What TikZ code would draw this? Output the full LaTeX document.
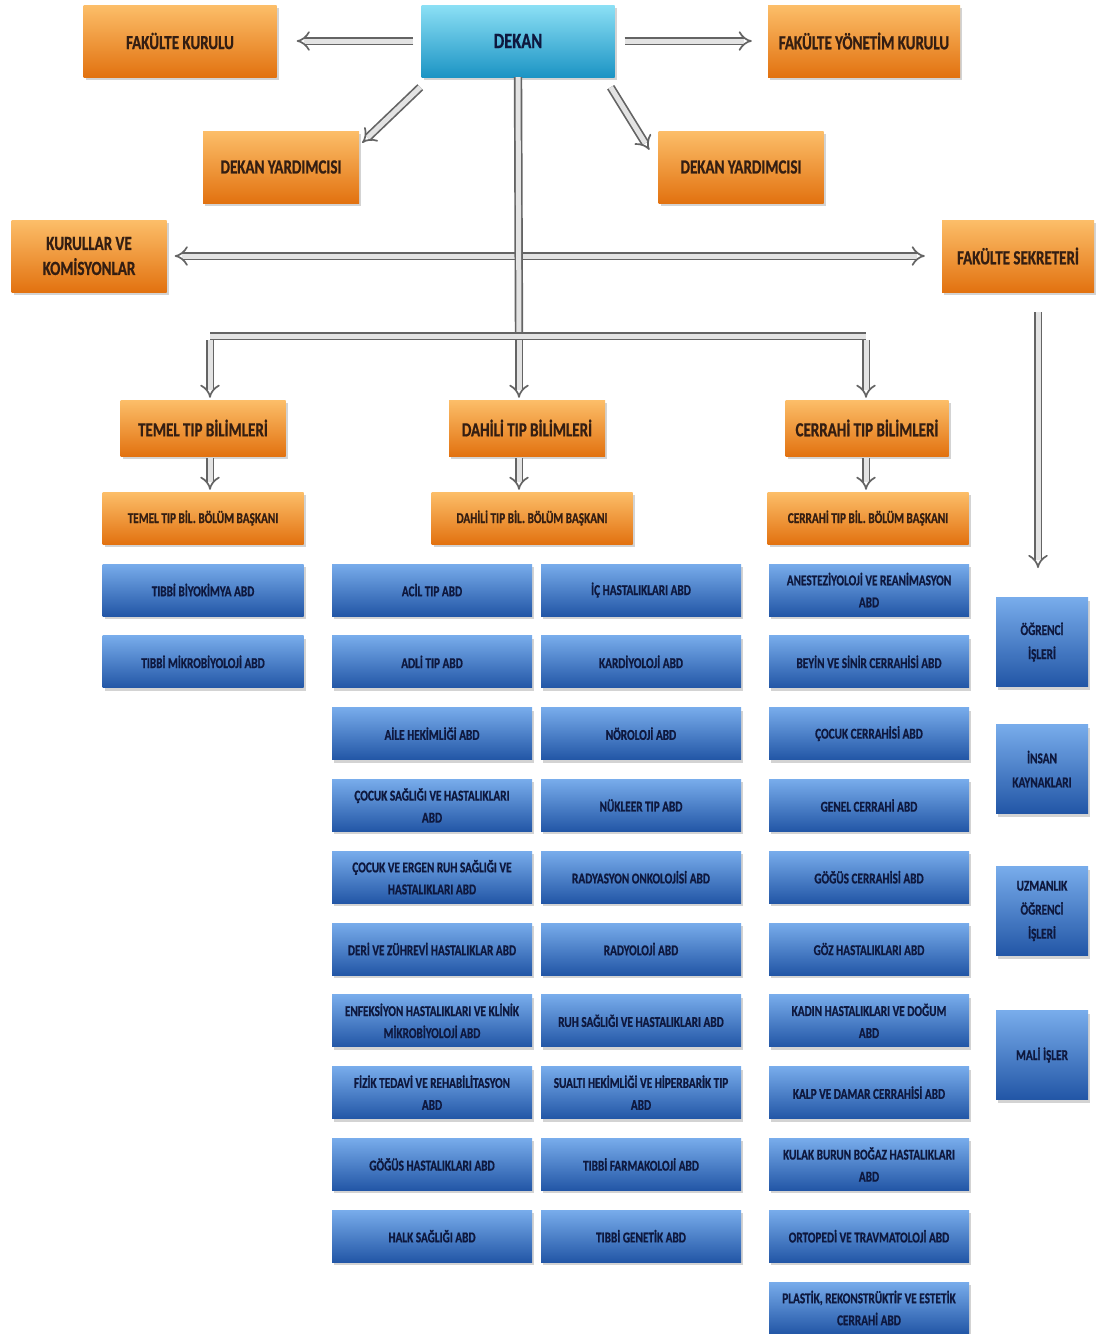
\documentclass[tikz,border=0pt]{standalone}
\usepackage{fontspec}
\setmainfont{Carlito}[FakeStretch=0.75, BoldFeatures={FakeBold=0.8}]
\usetikzlibrary{arrows.meta,shadows}
\definecolor{orgTop}{RGB}{252,190,105}
\definecolor{orgBot}{RGB}{226,114,16}
\definecolor{abdTop}{RGB}{120,172,235}
\definecolor{abdBot}{RGB}{34,86,166}
\definecolor{dekTop}{RGB}{140,224,245}
\definecolor{dekBot}{RGB}{28,148,196}
\definecolor{pipeGray}{RGB}{100,100,100}
\definecolor{orgText}{RGB}{52,30,18}
\definecolor{abdText}{RGB}{14,24,62}
\begin{document}
\begin{tikzpicture}[x=1pt,y=-1pt,
  box/.style={rectangle, inner sep=2pt, align=center,
    drop shadow={shadow xshift=2pt, shadow yshift=-3pt, opacity=0.35}},
  orgbox/.style={box, top color=orgTop, bottom color=orgBot, text=orgText},
  kurul/.style={orgbox, minimum height=72pt, font=\bfseries\fontsize{20}{25}\selectfont},
  bolum/.style={orgbox, minimum height=56pt, font=\bfseries\fontsize{20}{25}\selectfont},
  baskan/.style={orgbox, minimum width=201pt, minimum height=52pt, font=\bfseries\fontsize{15}{18}\selectfont},
  dekbox/.style={box, top color=dekTop, bottom color=dekBot, text=abdText,
    minimum width=193pt, minimum height=72pt, font=\bfseries\fontsize{22}{26}\selectfont},
  abd/.style={box, top color=abdTop, bottom color=abdBot, text=abdText,
    minimum width=200pt, minimum height=52pt, font=\bfseries\fontsize{15}{22}\selectfont},
  birim/.style={abd, minimum width=92pt, minimum height=89pt, font=\bfseries\fontsize{15}{24}\selectfont},
  pipe/.style={draw=pipeGray, double=gray!22, double distance=5pt, line width=1.7pt},
  tip/.style={pipe, -{Implies}}
]
\useasboundingbox (0,0) rectangle (1096,1334);

% yonetim
\node[dekbox] (dekan) at (518,41) {DEKAN};
\node[kurul, minimum width=193pt] (fkurul) at (180,41) {FAKÜLTE KURULU};
\node[kurul, minimum width=192pt] (fyk) at (864,41) {FAKÜLTE YÖNETİM KURULU};
\node[kurul, minimum width=156pt] (dyL) at (281,167) {DEKAN YARDIMCISI};
\node[kurul, minimum width=165pt] (dyR) at (741,167) {DEKAN YARDIMCISI};
\node[kurul, minimum width=155pt] (komisyon) at (89,256) {KURULLAR VE\\KOMİSYONLAR};
\node[kurul, minimum width=152pt] (sekreter) at (1018,256) {FAKÜLTE SEKRETERİ};

\draw[tip, shorten <=8pt, shorten >=20pt] (dekan.west) -- (fkurul.east);
\draw[tip, shorten <=10pt, shorten >=16pt] (dekan.east) -- (fyk.west);
\draw[tip] ([shift={(-1,10)}]dekan.south west) -- ([shift={(3,12)}]dyL.north east);
\draw[tip] ([shift={(-4,10)}]dekan.south east) -- ([shift={(-9,19)}]dyR.north west);
\draw[pipe, {Implies}-{Implies}, shorten <=8pt, shorten >=17pt] (komisyon.east) -- (sekreter.west);

% bolumler
\coordinate (barL) at (210,336);
\coordinate (barM) at (519,336);
\coordinate (barR) at (866,336);
\node[bolum, minimum width=165pt] (temel) at (203,428) {TEMEL  TIP BİLİMLERİ};
\node[bolum, minimum width=156pt] (dahili) at (527,428) {DAHİLİ TIP BİLİMLERİ};
\node[bolum, minimum width=163pt] (cerrahi) at (867,428) {CERRAHİ TIP BİLİMLERİ};
\node[baskan] (temelB) at (203,518) {TEMEL TIP BİL. BÖLÜM BAŞKANI};
\node[baskan] (dahiliB) at (532,518) {DAHİLİ TIP BİL. BÖLÜM BAŞKANI};
\node[baskan] (cerrahiB) at (868,518) {CERRAHİ TIP BİL. BÖLÜM BAŞKANI};

\draw[pipe] (dekan.south) -- (barM);
\draw[pipe] (barL) -- (barR);
\foreach \b/\n in {barL/temel, barM/dahili, barR/cerrahi}{
  \draw[tip, shorten <=4pt, shorten >=2pt] (\b) -- (\b |- \n.north);
  \draw[tip, shorten <=2pt, shorten >=2pt] (\b |- \n.south) -- (\b |- \n B.north);
}

% anabilim dallari
\foreach \ad [count=\i] in {TIBBİ BİYOKİMYA ABD, TIBBİ MİKROBİYOLOJİ ABD}
  \node[abd, minimum width=201pt] (temel\i) at (203,{590+(\i-1)*71.8}) {\ad};
\foreach \ad [count=\i] in {ACİL TIP ABD, ADLİ TIP ABD, AİLE HEKİMLİĞİ ABD,
    ÇOCUK SAĞLIĞI  VE HASTALIKLARI\\ABD, ÇOCUK VE ERGEN RUH SAĞLIĞI VE\\HASTALIKLARI ABD,
    DERİ VE ZÜHREVİ HASTALIKLAR  ABD, ENFEKSİYON HASTALIKLARI VE KLİNİK\\MİKROBİYOLOJİ ABD,
    FİZİK TEDAVİ VE REHABİLİTASYON\\ABD, GÖĞÜS HASTALIKLARI  ABD, HALK SAĞLIĞI  ABD}
  \node[abd] (dahiliA\i) at (432,{590+(\i-1)*71.8}) {\ad};
\foreach \ad [count=\i] in {İÇ HASTALIKLARI ABD, KARDİYOLOJİ ABD, NÖROLOJİ ABD,
    NÜKLEER TIP ABD, RADYASYON ONKOLOJİSİ ABD, RADYOLOJİ ABD,
    RUH SAĞLIĞI VE HASTALIKLARI ABD, SUALTI HEKİMLİĞİ VE HİPERBARİK TIP\\ABD,
    TIBBİ FARMAKOLOJİ ABD, TIBBİ GENETİK ABD}
  \node[abd] (dahiliB\i) at (641,{590+(\i-1)*71.8}) {\ad};
\foreach \ad [count=\i] in {ANESTEZİYOLOJİ VE REANİMASYON\\ABD, BEYİN VE SİNİR CERRAHİSİ ABD,
    ÇOCUK CERRAHİSİ ABD, GENEL CERRAHİ ABD, GÖĞÜS CERRAHİSİ ABD, GÖZ HASTALIKLARI ABD,
    KADIN HASTALIKLARI VE DOĞUM\\ABD, KALP VE DAMAR CERRAHİSİ ABD,
    KULAK BURUN BOĞAZ HASTALIKLARI\\ABD, ORTOPEDİ VE TRAVMATOLOJİ ABD,
    {PLASTİK, REKONSTRÜKTİF VE ESTETİK\\CERRAHİ ABD}}
  \node[abd] (cerrahi\i) at (869,{590+(\i-1)*71.8}) {\ad};

% idari birimler
\coordinate (birimler) at (1038,568);
\draw[tip, shorten <=20pt] (birimler |- sekreter.south) -- (birimler);
\node[birim] (ogrenci) at (1042,642) {ÖĞRENCİ\\İŞLERİ};
\node[birim] (insan) at (1042,769) {İNSAN\\KAYNAKLARI};
\node[birim] (uzmanlik) at (1042,911) {UZMANLIK\\ÖĞRENCİ\\İŞLERİ};
\node[birim] (mali) at (1042,1055) {MALİ İŞLER};
\end{tikzpicture}
\end{document}
